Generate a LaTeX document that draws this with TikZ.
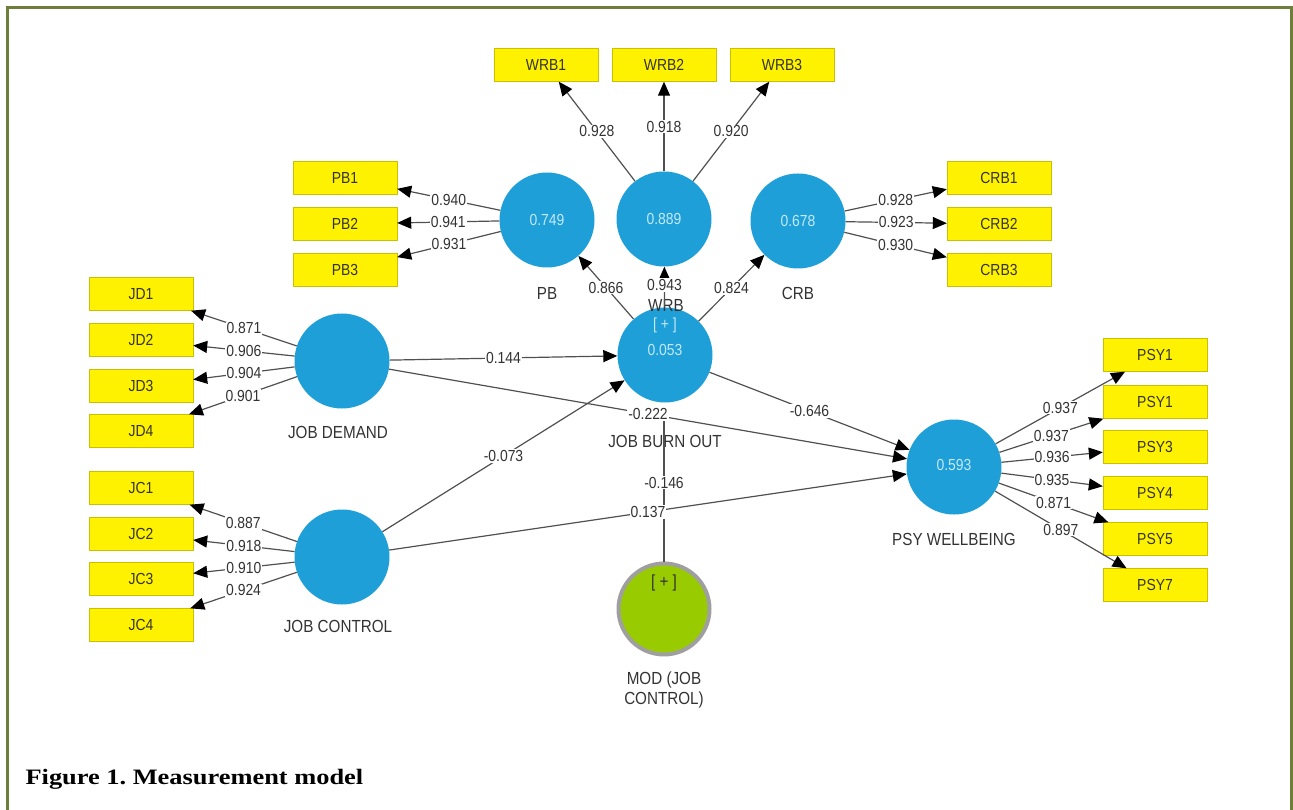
\documentclass[tikz,border=0pt]{standalone}
\usepackage{fontspec}
\setmainfont[FakeStretch=0.87]{Liberation Sans}
\newfontfamily\capfont[FakeStretch=1.2]{Liberation Serif}
\usepackage{tikz}
\usetikzlibrary{arrows.meta,positioning,calc}
\definecolor{plsblue}{HTML}{1E9FD8}
\definecolor{plsinner}{HTML}{C4E9F8}
\definecolor{plsgreen}{HTML}{99CC00}
\definecolor{plsline}{HTML}{505050}
\definecolor{plstext}{HTML}{333333}
\definecolor{frameolive}{HTML}{6E7F3B}
\definecolor{boxedge}{HTML}{C8C000}
\tikzset{
  ind/.style={draw=boxedge,thin,fill=yellow,minimum width=104pt,minimum height=33pt,
    inner sep=0pt,text=plstext,font=\fontsize{16}{18}\selectfont},
  lv/.style={circle,fill=plsblue,minimum size=95pt,inner sep=0pt},
  lvval/.style={text=plsinner,font=\fontsize{16}{18}\selectfont},
  lvname/.style={text=plstext,font=\fontsize{17.5}{20}\selectfont,align=center},
  load/.style={plsline,line width=1.2pt,-{Triangle[length=14pt,width=12pt,color=black]}},
  val/.style={midway,fill=white,inner sep=1pt,text=plstext,font=\fontsize{16}{18}\selectfont}
}

\begin{document}
\begin{tikzpicture}[x=1pt,y=-1pt]
        \useasboundingbox (0,0) rectangle (1293,810);
        % Frame
        \draw[frameolive,line width=2.2pt] (7.5,815) -- (7.5,7.5) -- (1291.5,7.5) -- (1291.5,815);

        % Latent variables
        \node[lv] (PB)  at (547,220) {};
        \node[lv] (WRB) at (664,219) {};
        \node[lv] (CRB) at (798,221) {};
        \node[lv] (JD)  at (342,361) {};
        \node[lv] (JC)  at (342,557) {};
        \node[lv] (JBO) at (665,355) {};
        \node[lv] (PSY) at (954,467) {};
        \node[circle,fill=plsgreen,draw=gray!75,line width=4pt,minimum size=91pt,inner sep=0pt]
          (MOD) at (664,609) {};

        % Values inside
        \node[lvval] (PBval)  at (547,220) {0.749};
        \node[lvval] (WRBval) at (664,219) {0.889};
        \node[lvval] (CRBval) at (798,221) {0.678};
        \node[lvval] (JBOmark) at (665,325) {[ + ]};
        \node[lvval] (JBOval) at (665,350) {0.053};
        \node[lvval] (PSYval) at (954,465) {0.593};
        \node[lvname] (MODmark) at (664,583) {[ + ]};

        % Names
        \node[lvname] (PBname)  at (547,293) {PB};
        \node[lvname] (WRBname) at (666,305) {WRB};
        \node[lvname] (CRBname) at (798,293) {CRB};
        \node[lvname] (JDname)  at (338,432) {JOB DEMAND};
        \node[lvname] (JCname)  at (338,626) {JOB CONTROL};
        \node[lvname] (JBOname) at (665,441) {JOB BURN OUT};
        \node[lvname] (PSYname) at (954,539) {PSY WELLBEING};
        \node[lvname] (MODname) at (664,690) {MOD (JOB\\CONTROL)};

        % Indicators
        \node[ind] (WRB1) at (546,65) {WRB1};
        \node[ind] (WRB2) at (664,65) {WRB2};
        \node[ind] (WRB3) at (782,65) {WRB3};
        \node[ind] (PB1) at (345,178) {PB1};
        \node[ind] (PB2) at (345,224) {PB2};
        \node[ind] (PB3) at (345,270) {PB3};
        \node[ind] (CRB1) at (999,178) {CRB1};
        \node[ind] (CRB2) at (999,224) {CRB2};
        \node[ind] (CRB3) at (999,270) {CRB3};
        \node[ind] (JD1) at (141,294) {JD1};
        \node[ind] (JD2) at (141,340) {JD2};
        \node[ind] (JD3) at (141,386) {JD3};
        \node[ind] (JD4) at (141,431) {JD4};
        \node[ind] (JC1) at (141,488) {JC1};
        \node[ind] (JC2) at (141,534) {JC2};
        \node[ind] (JC3) at (141,579) {JC3};
        \node[ind] (JC4) at (141,625) {JC4};
        \node[ind] (PSY1) at (1155,355) {PSY1};
        \node[ind] (PSY2) at (1155,402) {PSY1};
        \node[ind] (PSY3) at (1155,447) {PSY3};
        \node[ind] (PSY4) at (1155,493) {PSY4};
        \node[ind] (PSY5) at (1155,539) {PSY5};
        \node[ind] (PSY7) at (1155,585) {PSY7};

        % Outer loadings
        \draw[load] (WRB) -- (WRB1) node[val] {0.928};
        \draw[load] (WRB) -- (WRB2) node[val] {0.918};
        \draw[load] (WRB) -- (WRB3) node[val] {0.920};
        \draw[load] (PB) -- (PB1) node[val] {0.940};
        \draw[load] (PB) -- (PB2) node[val] {0.941};
        \draw[load] (PB) -- (PB3) node[val] {0.931};
        \draw[load] (CRB) -- (CRB1) node[val] {0.928};
        \draw[load] (CRB) -- (CRB2) node[val] {0.923};
        \draw[load] (CRB) -- (CRB3) node[val] {0.930};
        \draw[load] (JD) -- (JD1) node[val] {0.871};
        \draw[load] (JD) -- (JD2) node[val] {0.906};
        \draw[load] (JD) -- (JD3) node[val] {0.904};
        \draw[load] (JD) -- (JD4) node[val] {0.901};
        \draw[load] (JC) -- (JC1) node[val] {0.887};
        \draw[load] (JC) -- (JC2) node[val] {0.918};
        \draw[load] (JC) -- (JC3) node[val] {0.910};
        \draw[load] (JC) -- (JC4) node[val] {0.924};
        \draw[load] (PSY) -- (PSY1) node[val] {0.937};
        \draw[load] (PSY) -- (PSY2) node[val] {0.937};
        \draw[load] (PSY) -- (PSY3) node[val] {0.936};
        \draw[load] (PSY) -- (PSY4) node[val] {0.935};
        \draw[load] (PSY) -- (PSY5) node[val] {0.871};
        \draw[load] (PSY) -- (PSY7) node[val] {0.897};

        % Second order
        \draw[load] (JBO) -- (PB)  node[val] {0.866};
        \draw[load] (JBO) -- (WRB) node[val,pos=0.55] {0.943};
        \draw[load] (JBO) -- (CRB) node[val] {0.824};

        % Moderating effect
        \coordinate (modtip) at (664,418);
        \draw[plsline,line width=1.2pt] (MOD) -- (modtip) node[val,pos=0.55] {-0.146};

        % Structural paths
        \draw[load] (JD) -- (JBO) node[val] {0.144};
        \draw[load] (JD) -- (PSY) node[val] {-0.222};
        \draw[load] (JC) -- (JBO) node[val] {-0.073};
        \draw[load] (JC) -- (PSY) node[val] {0.137};
        \draw[load] (JBO) -- (PSY) node[val] {-0.646};

        % Caption
        \node[anchor=base west,font=\capfont\bfseries\fontsize{22}{26}\selectfont] (caption)
          at (22,784) {\frenchspacing Figure 1. Measurement model};
      \end{tikzpicture}
\end{document}
